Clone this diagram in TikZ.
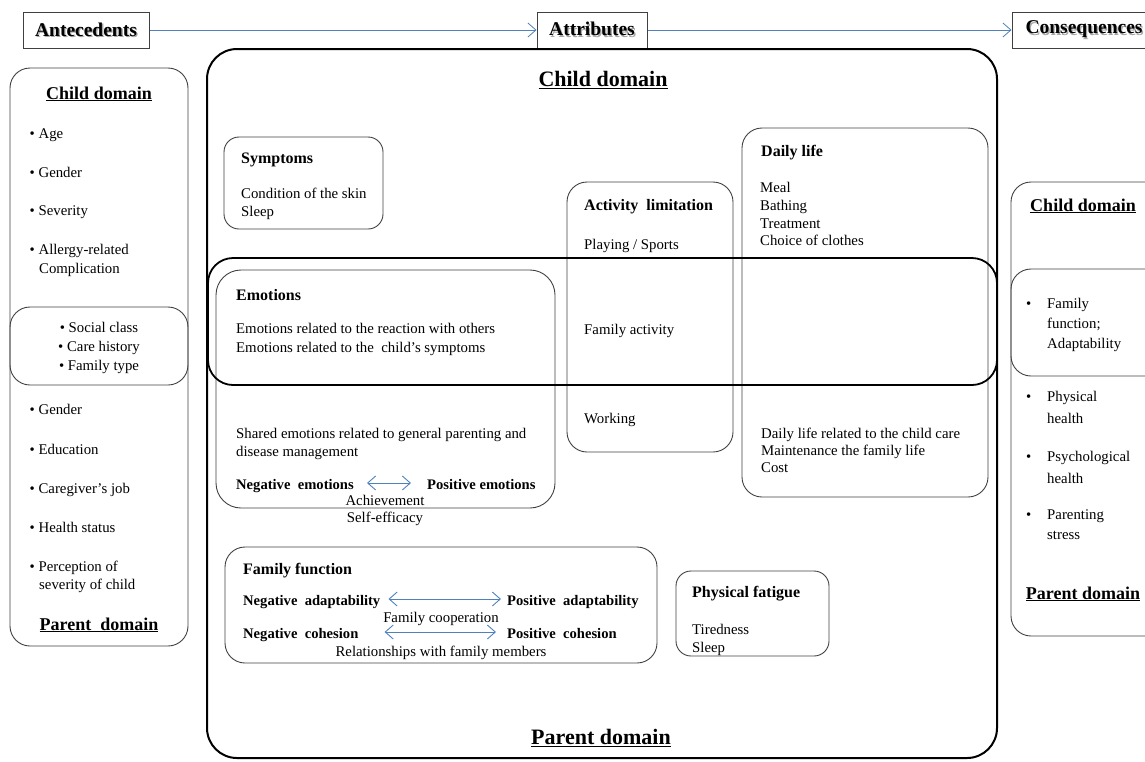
\documentclass[tikz,border=0pt]{standalone}
\usepackage{fontspec}
\setmainfont{Liberation Serif}
\usepackage{tikz}
\usetikzlibrary{arrows.meta}
\definecolor{linkblue}{RGB}{79,129,189}
\definecolor{edge}{RGB}{64,64,64}
\newcommand{\shadowed}[1]{\makebox[0pt][l]{\hspace{1.3pt}\raisebox{-1.3pt}{\color{black!35}#1}}#1}
\tikzset{
    panel/.style={draw=edge, line width=0.9pt, rounded corners=20pt},
    frame/.style={draw=black, line width=2pt, rounded corners=30pt},
    head/.style={rectangle, draw=edge, line width=1pt, minimum height=36pt, inner sep=0pt, font=\fontsize{19.5}{22}\selectfont\bfseries},
    txt/.style={inner sep=0pt, anchor=west, text height=15pt, text depth=2pt, font=\fontsize{14.8}{18}\selectfont},
    ctxt/.style={inner sep=0pt, text height=15pt, text depth=2pt, font=\fontsize{14.8}{18}\selectfont},
    ttl/.style={inner sep=0pt, anchor=west, text height=15.5pt, text depth=2pt, font=\fontsize{16}{19}\selectfont\bfseries},
    lbl/.style={inner sep=0pt, anchor=west, text height=15pt, text depth=2pt, font=\fontsize{14.6}{18}\selectfont\bfseries},
    dom/.style={inner sep=0pt, text height=15pt, text depth=3pt, font=\fontsize{18}{21}\selectfont\bfseries},
    bigdom/.style={inner sep=0pt, text height=17pt, text depth=4pt, font=\fontsize{22}{26}\selectfont\bfseries},
    flow/.style={-{Straight Barb[length=8pt,width=14pt]}, draw=linkblue, line width=0.8pt},
    swap/.style={{Straight Barb[length=8pt,width=14pt]}-{Straight Barb[length=8pt,width=14pt]}, draw=linkblue, line width=0.9pt}
}
\begin{document}
\begin{tikzpicture}[x=1pt, y=-1pt]
    \useasboundingbox (0,0) rectangle (1145,761);

    % Headers
    \node[head, minimum width=126pt] (ante) at (86,30) {\shadowed{Antecedents}};
    \node[head, minimum width=110pt] (attr) at (592,30) {\shadowed{Attributes}};
    \node[head, minimum width=144pt] (cons) at (1084,30) {\shadowed{Consequences}};
    \draw[flow] (ante) -- (attr);
    \draw[flow] (attr) -- (cons);

    % Antecedents column
    \draw[panel] (10,68) rectangle (188,646);
    \draw[panel] (10,307) rectangle (188,385);
    \node[dom] (lchild) at (99,93) {\underline{Child domain}};
    \node[txt] (lage) at (29.5,132) {\textbullet\ Age};
    \node[txt] (lgender) at (29.5,171) {\textbullet\ Gender};
    \node[txt] (lsever) at (29.5,209) {\textbullet\ Severity};
    \node[txt] (lallergy) at (29.5,248) {\textbullet\ Allergy-related};
    \node[txt] (lcompl) at (39,267) {Complication};
    \node[ctxt] (lsocial) at (99,326) {\textbullet\ Social class};
    \node[ctxt] (lcare) at (99,345) {\textbullet\ Care history};
    \node[ctxt] (ltype) at (99,364) {\textbullet\ Family type};
    \node[txt] (pgender) at (29.5,408) {\textbullet\ Gender};
    \node[txt] (pedu) at (29.5,448) {\textbullet\ Education};
    \node[txt] (pjob) at (29.5,487) {\textbullet\ Caregiver’s job};
    \node[txt] (phealth) at (29.5,526) {\textbullet\ Health status};
    \node[txt] (pperc) at (29.5,565) {\textbullet\ Perception of};
    \node[txt] (psev) at (39,583) {severity of child};
    \node[dom] (lparent) at (99,624) {\underline{Parent\ \ domain}};

    % Attributes frame
    \draw[frame] (207,49) rectangle (997,758);
    \node[bigdom] (achild) at (603,80) {\underline{Child domain}};
    \node[bigdom] (aparent) at (601,738) {\underline{Parent domain}};

    % Symptoms
    \draw[panel, rounded corners=15pt] (224,137) rectangle (383,229);
    \node[ttl] (sympt) at (241,157) {Symptoms};
    \node[txt] (symp1) at (241,192) {Condition of the skin};
    \node[txt] (symp2) at (241,210) {Sleep};

    % Emotions
    \draw[panel, rounded corners=25pt] (216,270) rectangle (555,508);
    \node[ttl] (emot) at (236,294) {Emotions};
    \node[txt] (emo1) at (236,327) {Emotions related to the reaction with others};
    \node[txt] (emo2) at (236,346) {Emotions related to the\ \ child’s symptoms};
    \node[txt] (share1) at (236,432) {Shared emotions related to general parenting and};
    \node[txt] (share2) at (236,450) {disease management};
    \node[lbl] (negemo) at (236,483) {Negative\ \ emotions};
    \node[lbl] (posemo) at (427,483) {Positive emotions};
    \node[ctxt] (achieve) at (385,499) {Achievement};
    \node[ctxt] (selfeff) at (385,516) {Self-efficacy};
    \draw[swap, shorten <=13pt, shorten >=16pt] (negemo) -- (posemo);

    % Activity limitation
    \draw[panel] (567,182) rectangle (733,452);
    \node[ttl] (actt) at (584,204) {Activity\ \ limitation};
    \node[txt] (act1) at (584,243) {Playing / Sports};
    \node[txt] (act2) at (584,328) {Family activity};
    \node[txt] (act3) at (584,417) {Working};

    % Daily life
    \draw[panel] (742,128) rectangle (988,497);
    \node[ttl] (dayt) at (761,150) {Daily life};
    \node[txt] (day1) at (760,186) {Meal};
    \node[txt] (day2) at (760,204) {Bathing};
    \node[txt] (day3) at (760,222) {Treatment};
    \node[txt] (day4) at (760,239) {Choice of clothes};
    \node[txt] (day5) at (761,432) {Daily life related to the child care};
    \node[txt] (day6) at (761,449) {Maintenance the family life};
    \node[txt] (day7) at (761,466) {Cost};

    % Child domain band
    \draw[frame, rounded corners=25pt, line width=1.8pt] (208,258) rectangle (997,385);

    % Family function
    \draw[panel] (225,547) rectangle (657,663);
    \node[ttl] (famt) at (243,568) {Family function};
    \node[lbl] (negadapt) at (243,599) {Negative\ \ adaptability};
    \node[lbl] (posadapt) at (507,599) {Positive\ \ adaptability};
    \node[ctxt] (coop) at (441,616) {Family cooperation};
    \node[lbl] (negcoh) at (243,632) {Negative\ \ cohesion};
    \node[lbl] (poscoh) at (507,632) {Positive\ \ cohesion};
    \node[ctxt] (relat) at (441,650) {Relationships with family members};
    \draw[swap, shorten <=8pt, shorten >=6pt] (negadapt) -- (posadapt);
    \draw[swap, shorten <=26pt, shorten >=11pt] (negcoh) -- (poscoh);

    % Physical fatigue
    \draw[panel, rounded corners=15pt] (676,571) rectangle (829,656);
    \node[ttl] (fatt) at (692,591) {Physical fatigue};
    \node[txt] (fat1) at (692,628) {Tiredness};
    \node[txt] (fat2) at (692,646) {Sleep};

    % Consequences column
    \draw[panel] (1011,182) rectangle (1165,636);
    \draw[panel] (1011,269) rectangle (1165,376);
    \node[dom] (rchild) at (1083,205) {\underline{Child domain}};
    \node[txt] (rfam1) at (1026,302) {\makebox[21pt][l]{\textbullet}Family};
    \node[txt] (rfam2) at (1047,322) {function;};
    \node[txt] (rfam3) at (1047,342) {Adaptability};
    \node[txt] (rphys1) at (1026,395) {\makebox[21pt][l]{\textbullet}Physical};
    \node[txt] (rphys2) at (1047,417) {health};
    \node[txt] (rpsy1) at (1026,455) {\makebox[21pt][l]{\textbullet}Psychological};
    \node[txt] (rpsy2) at (1047,477) {health};
    \node[txt] (rpar1) at (1026,513) {\makebox[21pt][l]{\textbullet}Parenting};
    \node[txt] (rpar2) at (1047,533) {stress};
    \node[dom] (rparent) at (1083,593) {\underline{Parent domain}};
\end{tikzpicture}
\end{document}
